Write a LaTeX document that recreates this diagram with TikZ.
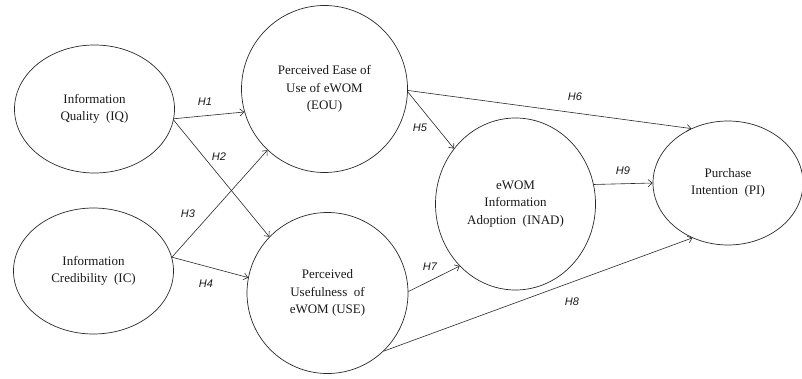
\documentclass[tikz,border=0pt]{standalone}
\usepackage{fontspec}
\setmainfont{Liberation Serif}
\newfontfamily\hlabfont{Liberation Sans}
\usepackage{xcolor}
\usepackage{tikz}
\usetikzlibrary{arrows.meta,shapes.geometric}
\definecolor{bg}{HTML}{FFFFFF}
\definecolor{ink}{HTML}{2A2A2A}
\definecolor{text}{HTML}{1A1A1A}
\tikzset{
  construct/.style={ellipse, draw=ink, line width=0.7pt, inner sep=0pt, align=center,
    text=text, font=\fontsize{13}{17.5}\selectfont},
  path/.style={draw=ink, line width=0.6pt, -{Straight Barb[length=4pt,width=7pt]}},
  hyp/.style={text=text, font=\hlabfont\itshape\fontsize{11}{12}\selectfont, inner sep=1pt},
}

\begin{document}
\begin{tikzpicture}[x=1pt, y=-1pt]
\useasboundingbox[fill=bg] (0,0) rectangle (802,379);

% constructs
\node[construct, minimum width=160, minimum height=128] (iq) at (94.5,109) {Information\\Quality~~(IQ)};
\node[construct, minimum width=160, minimum height=126] (ic) at (93.5,271) {Information\\Credibility~~(IC)};
\node[construct, minimum width=166, minimum height=167] (eou) at (324.5,89) {Perceived Ease of\\Use of eWOM\\(EOU)};
\node[construct, minimum width=161, minimum height=161] (use) at (327.5,293) {Perceived\\Usefulness~~of\\eWOM (USE)};
\node[construct, minimum width=160, minimum height=172] (inad) at (515.5,204) {eWOM\\Information\\Adoption~~(INAD)};
\node[construct, minimum width=150, minimum height=124] (pi) at (728,183) {Purchase\\Intention~~(PI)};

% hypotheses
\draw[path] (iq.-7) -- (eou.196);
\draw[path] (iq.-8) -- (use.136);
\draw[path] (ic.10) -- (eou.227);
\draw[path] (ic.10) -- (use.169);
\draw[path] (eou.-2) -- (inad.138);
\draw[path] (eou.-1) -- (pi.124);
\draw[path] (use.1) -- (inad.228);
\draw[path] (use.-46) -- (pi.237);
\draw[path] (inad.14) -- (pi.180);

\node[hyp] (h1) at (205,102) {H1};
\node[hyp] (h2) at (219,157) {H2};
\node[hyp] (h3) at (188,214) {H3};
\node[hyp] (h4) at (206,284) {H4};
\node[hyp] (h5) at (420,128) {H5};
\node[hyp] (h6) at (575,97) {H6};
\node[hyp] (h7) at (430,267) {H7};
\node[hyp] (h8) at (572,302) {H8};
\node[hyp] (h9) at (623,171) {H9};
\end{tikzpicture}
\end{document}
